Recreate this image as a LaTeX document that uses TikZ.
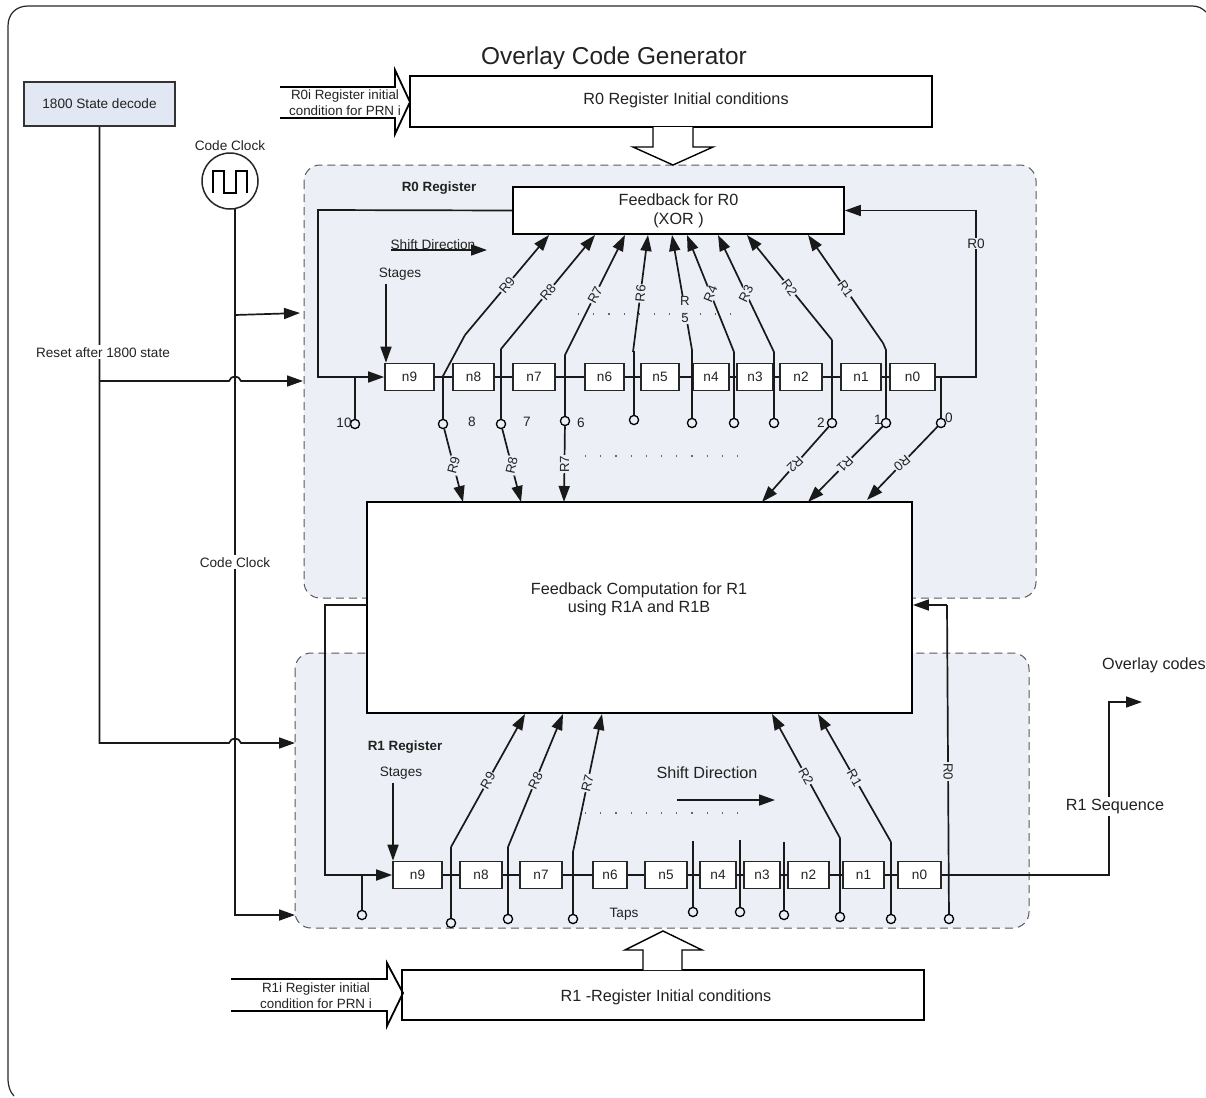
\documentclass[tikz,border=0pt]{standalone}
\usepackage{fontspec}
\setmainfont{Liberation Sans}
\usetikzlibrary{arrows.meta}
\definecolor{panelfill}{HTML}{ECEFF5}
\definecolor{decodefill}{HTML}{E1E7F3}
\definecolor{textgrey}{HTML}{222222}
\tikzset{
  wire/.style={line width=0.85pt,black!90},
  arrow/.style={wire,-{Triangle[length=8pt,width=5.5pt]}},
  panel/.style={draw=black!65,fill=panelfill,line width=0.5pt,dash pattern=on 4pt off 2.5pt,rounded corners=8pt},
  block/.style={draw=black,fill=white,line width=0.85pt,inner sep=0pt,align=center,font=\fontsize{8.1}{9.4}\selectfont,text=textgrey},
  regbox/.style={draw=black!85,fill=white,line width=0.8pt,inner sep=0pt,minimum height=13.5pt,font=\fontsize{6.8}{7}\selectfont,text=textgrey},
  tap/.style={circle,draw=black,fill=none,line width=0.65pt,inner sep=0pt,minimum size=4.6pt},
  txt/.style={text=textgrey,inner sep=1pt,align=center,font=\fontsize{6.8}{8}\selectfont},
  note/.style={txt,yshift=-0.7pt},
  tag/.style={txt,fill=panelfill,inner sep=0.4pt,font=\fontsize{6.6}{7}\selectfont},
  dotrow/.style={line width=0.6pt,black!60,dash pattern=on 0.6pt off 7pt}
}
\begin{document}
\begin{tikzpicture}[x=0.5pt,y=-0.5pt]
    \useasboundingbox (0,0) rectangle (1206,1098);

    % outer frame, cut off by the page
    \draw[line width=0.6pt,black!85] (14,1096) .. controls (10,1092) and (8,1086) .. (8,1078) -- (8,26)
        .. controls (8,14) and (16,6) .. (28,6) -- (1192,6) .. controls (1198,6) and (1202,8) .. (1206,12);

    % register panels
    \draw[panel] (304,165) rectangle (1036,598);
    \draw[panel] (295,653) rectangle (1029,928);

    % top and bottom blocks
    \node[note,font=\fontsize{12.2}{14}\selectfont] (title) at (614,57) {Overlay Code Generator};
    \node[block,minimum width=261pt,minimum height=25.5pt] (init0) at (671,101.5) {};
    \node[note,font=\fontsize{8.1}{9.4}\selectfont] (init0text) at (686,99) {R0 Register Initial conditions};
    \node[block,minimum width=261pt,minimum height=25pt] (init1) at (663,995) {};
    \node[note,font=\fontsize{8.1}{9.4}\selectfont] (init1text) at (666,996) {R1 -Register Initial conditions};
    \draw[line width=0.7pt,fill=white] (653,127) -- (653,147) -- (633,147) -- (673,165) -- (713,147) -- (693,147) -- (693,127);
    \draw[line width=0.7pt,fill=white] (643,970) -- (643,950) -- (625,950) -- (663,931) -- (702,950) -- (682,950) -- (682,970);

    % input block arrows
    \draw[line width=0.9pt] (280,87) -- (395,87) -- (395,70) -- (410,102) -- (395,134) -- (395,118) -- (280,118);
    \draw[line width=0.9pt] (231,979) -- (387,979) -- (387,963) -- (403,993) -- (387,1026) -- (387,1011) -- (231,1011);
    \node[note,font=\fontsize{6.7}{8}\selectfont] (in0) at (345,101) {R0i Register initial\\condition for PRN i};
    \node[note,font=\fontsize{6.7}{8}\selectfont] (in1) at (316,994) {R1i Register initial\\condition for PRN i};

    % feedback boxes
    \node[block,minimum width=165.5pt,minimum height=23.5pt] (fb0) at (678.5,210.5) {Feedback for R0\\(XOR )};
    \node[block,minimum width=272.5pt,minimum height=105.5pt] (fb1) at (639.5,607.5) {};
    \node[note,font=\fontsize{8.1}{9.2}\selectfont] (fb1text) at (639,598) {Feedback Computation for R1\\using R1A and R1B};

    % R0 register stages
    \foreach \nm/\xa/\xb in {n9/385/434,n8/453/494,n7/513/555,n6/585/624,n5/641/679,n4/693/729,n3/737/773,n2/780/822,n1/841/881,n0/890/935}
        \node[regbox,minimum width={(\xb-\xa)*0.5pt}] (a\nm) at ({(\xa+\xb)/2},377) {\nm};
    % R1 register stages
    \foreach \nm/\xa/\xb in {n9/393/442,n8/460/502,n7/520/562,n6/593/627,n5/645/687,n4/700/736,n3/744/780,n2/788/829,n1/843/884,n0/898/941}
        \node[regbox,minimum width={(\xb-\xa)*0.5pt}] (b\nm) at ({(\xa+\xb)/2},875) {\nm};

    \draw[wire] (an9) -- (an8); \draw[wire] (an8) -- (an7); \draw[wire] (an7) -- (an6); \draw[wire] (an6) -- (an5);
    \draw[wire] (an5) -- (an4); \draw[wire] (an4) -- (an3); \draw[wire] (an3) -- (an2); \draw[wire] (an2) -- (an1);
    \draw[wire] (an1) -- (an0);
    \draw[wire] (bn9) -- (bn8); \draw[wire] (bn8) -- (bn7); \draw[wire] (bn7) -- (bn6); \draw[wire] (bn6) -- (bn5);
    \draw[wire] (bn5) -- (bn4); \draw[wire] (bn4) -- (bn3); \draw[wire] (bn3) -- (bn2); \draw[wire] (bn2) -- (bn1);
    \draw[wire] (bn1) -- (bn0);

    % R0 taps up to the R0 feedback
    \foreach \nm/\tx/\ty/\vy/\bx/\by/\ex/\rr in {
        9/443/424/376/465/335/549/50,8/501/424/349/501/349/595/50,7/565/421/355/565/355/625/62,
        6/634/420/352/633/352/648/85,4/734/423/352/734/352/687/68,
        3/774/423/352/774/352/718/64,2/832/423/340/832/340/747/-54,1/886/423/350/883/343/808/-55}{
        \node[tap] (ta\nm) at (\tx,\ty) {};
        \coordinate (ba\nm) at (\bx,\by);
        \coordinate (ea\nm) at (\ex,235);
        \draw[wire] (ta\nm) -- (\tx,\vy) -- (ba\nm);
        \draw[arrow] (ba\nm) -- node[tag,rotate=\rr] (la\nm) {R\nm} (ea\nm);
    }
    \node[tap] (ta5) at (692,423) {};
    \coordinate (ba5) at (692,350);
    \coordinate (ea5) at (672,235);
    \draw[wire] (ta5) -- (ba5);
    \draw[arrow] (ba5) -- node[tag,pos=.35,font=\fontsize{6.6}{8.5}\selectfont] (la5) {R\\5} (ea5);

    % R0 taps down to the R1 feedback
    \coordinate (da9) at (463,502); \coordinate (da8) at (521,502); \coordinate (da7) at (564,502);
    \coordinate (da2) at (762,502); \coordinate (da1) at (808,502); \coordinate (da0) at (867,500);
    \node[tap] (ta0) at (941,423) {};
    \draw[arrow] (ta9) -- node[tag,rotate=75] (ma9) {R9} (da9);
    \draw[arrow] (ta8) -- node[tag,rotate=78] (ma8) {R8} (da8);
    \draw[arrow] (ta7) -- node[tag,rotate=90] (ma7) {R7} (da7);
    \draw[arrow] (ta2) -- node[tag,rotate=225] (ma2) {R2} (da2);
    \draw[arrow] (ta1) -- node[tag,rotate=225] (ma1) {R1} (da1);
    \draw[arrow] (ta0) -- node[tag,rotate=220] (ma0) {R0} (da0);
    \draw[wire] (an0) -- (941,377) -- (ta0);

    % R0 register loop
    \draw[arrow] (an0) -- (976,377) |- node[tag,pos=.4,font=\fontsize{6.8}{7}\selectfont] (lr0) {R0} (fb0.east);
    \draw[arrow] (fb0.west) -- (318,210) |- (an9);
    \node[tap] (ta10) at (355,424) {};
    \draw[wire] (355,377) -- (ta10);

    % R1 register taps
    \foreach \nm/\tx/\ty/\bx/\by/\ex/\rr in {
        9/451/923/451/847/525/60,8/508/919/508/847/563/64,7/573/919/573/852/602/76,
        2/840/917/840/838/772/-60,1/891/919/891/842/818/-60}{
        \node[tap] (tb\nm) at (\tx,\ty) {};
        \coordinate (bb\nm) at (\bx,\by);
        \coordinate (eb\nm) at (\ex,714);
        \draw[wire] (tb\nm) -- (bb\nm);
        \draw[arrow] (bb\nm) -- node[tag,rotate=\rr] (lb\nm) {R\nm} (eb\nm);
    }
    \foreach \nm/\tx/\ty/\ey in {5/693/912/841,4/740/912/840,3/784/915/842}{
        \node[tap] (tb\nm) at (\tx,\ty) {};
        \coordinate (bb\nm) at (\tx,\ey);
        \draw[wire] (tb\nm) -- (bb\nm);
    }
    \node[tap] (tb0) at (949,919) {};
    \coordinate (bb0) at (947,605);
    \draw[wire] (tb0) -- node[tag,pos=.46,rotate=-90] (lb0) {R0} (bb0);
    \draw[arrow] (bb0) -- (fb1.east |- bb0);
    \node[tap] (tb10) at (362,915) {};
    \draw[wire] (362,875) -- (tb10);

    % R1 register loop and output
    \coordinate (fbout) at (367,605);
    \draw[arrow] (fbout) -- (325,605) |- (bn9);
    \coordinate (outend) at (1142,702);
    \draw[arrow] (bn0) -- (1109,875) |- (outend);
    \node[note,fill=white,font=\fontsize{8.1}{9}\selectfont] (r1seq) at (1115,805) {R1 Sequence};
    \node[note,font=\fontsize{8.1}{9}\selectfont] (ovl) at (1154,664) {Overlay codes};

    % decode and clock lines
    \node[draw=black!80,fill=decodefill,line width=0.85pt,inner sep=0pt,minimum width=75.5pt,minimum height=22pt,font=\fontsize{6.8}{8}\selectfont,text=textgrey] (dec) at (99.5,104) {1800 State decode};
    \node[circle,draw=black!85,line width=0.75pt,fill=white,minimum size=28pt,inner sep=0pt] (clk) at (230,181) {};
    \draw[line width=0.6pt] (213,193) -- (213,171) -- (224,171) -- (224,193) -- (236,193) -- (236,171) -- (247,171) -- (247,193);
    \node[note] (clklab) at (230,144) {Code Clock};

    \coordinate (p0r) at (303,381);
    \coordinate (p1r) at (295,743);
    \coordinate (p0c) at (300,313);
    \coordinate (p1c) at (295,915);
    \coordinate (jr0) at (99,381);
    \coordinate (jc0) at (235,315);
    \coordinate (clkout) at (235,209);
    \draw[arrow] (dec.south) -- (dec.south |- p1r) -- (229,743) .. controls (231,737) and (239,737) .. (241,743) -- (p1r);
    \draw[arrow] (jr0) -- (229,381) .. controls (231,375) and (239,375) .. (241,381) -- (p0r);
    \draw[arrow] (clkout) -- (clkout |- p1c) -- (p1c);
    \draw[arrow] (jc0) -- (p0c);
    \node[note,fill=white] (reset) at (103,351) {Reset after 1800 state};
    \node[note,fill=white] (clkmid) at (235,561) {Code Clock};

    % register notes
    \node[note,font=\fontsize{6.7}{7}\bfseries\selectfont] (name0) at (439,187) {R0 Register};
    \node[note,font=\fontsize{6.7}{7}\bfseries\selectfont] (name1) at (405,746) {R1 Register};
    \node[note] (sh0) at (433,243) {Shift Direction};
    \coordinate (sh0a) at (391,250); \coordinate (sh0b) at (487,250);
    \draw[arrow] (sh0a) -- (sh0b);
    \node[note,font=\fontsize{8.1}{9}\selectfont] (sh1) at (707,771) {Shift Direction};
    \coordinate (sh1a) at (677,800); \coordinate (sh1b) at (775,800);
    \draw[arrow] (sh1a) -- (sh1b);
    \node[note] (st0) at (400,273) {Stages};
    \coordinate (st0a) at (386,284);
    \draw[arrow] (st0a) -- (st0a |- an9.north);
    \node[note] (st1) at (401,772) {Stages};
    \coordinate (st1a) at (393,783);
    \draw[arrow] (st1a) -- (st1a |- bn9.north);
    \node[note] (taps) at (624,913) {Taps};

    % tap numbers
    \node[note] (c10) at (344,421) {10};
    \node[note] (c8) at (472,420) {8};
    \node[note] (c7) at (527,420) {7};
    \node[note] (c6) at (581,421) {6};
    \node[note] (c2) at (821,421) {2};
    \node[note] (c1) at (878,418) {1};
    \node[note] (c0) at (949,416) {0};

    % dotted rows
    \draw[dotrow] (578,314) -- (745,314);
    \draw[dotrow] (585,456) -- (750,456);
    \draw[dotrow] (585,813) -- (750,813);
\end{tikzpicture}
\end{document}
